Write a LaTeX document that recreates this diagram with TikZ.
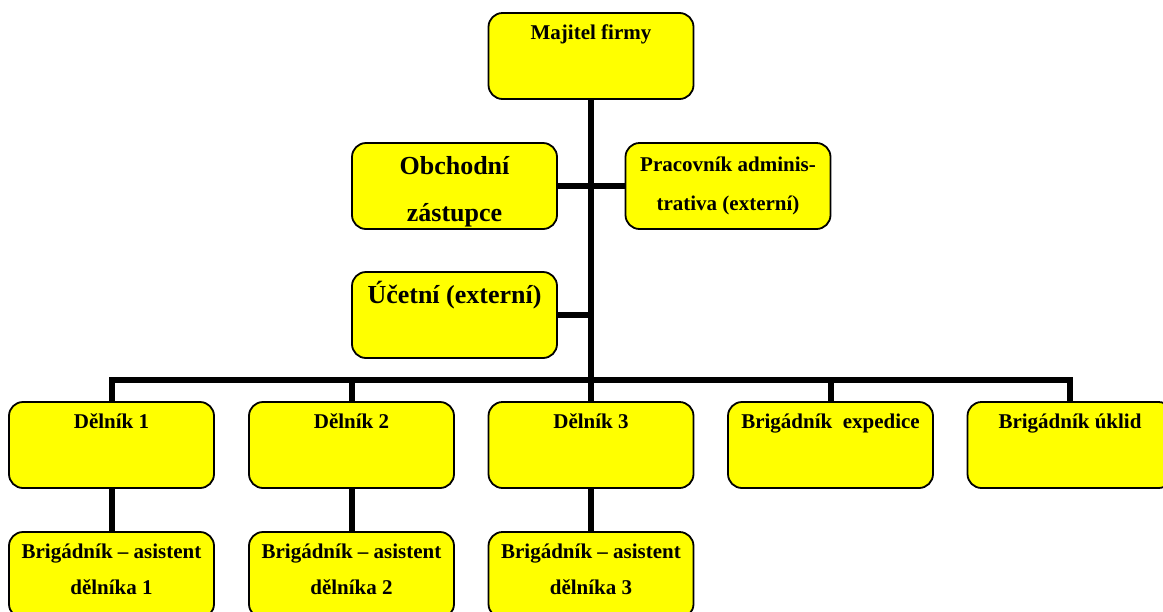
\documentclass[tikz,border=0pt]{standalone}
\usepackage{fontspec}
\setmainfont{Liberation Serif}
\usepackage{xcolor}
\definecolor{cBOX}{HTML}{FFFF00}

\begin{document}
\begin{tikzpicture}[x=1pt, y=-1pt,
  box/.style={draw, line width=1.8pt, fill=cBOX, rounded corners=14pt,
    minimum width=205pt, minimum height=86pt, inner sep=0pt, align=center,
    font=\fontsize{21}{39}\selectfont\bfseries},
  toptext/.style={text height=26pt, text depth=60pt},
  big/.style={font=\fontsize{26}{47}\selectfont\bfseries},
  conn/.style={line width=6pt},
]
\clip (0,0) rectangle (1163,611);

% vedeni
\node[box, toptext] (maj) at (591,56) {Majitel firmy};
\node[box, big] (obchod) at (454.5,186) {\rule{0pt}{30pt}Obchodní\\zástupce};
\node[box] (admin) at (728,186) {Pracovník adminis-\\trativa (externí)};
\node[box, big, text height=31pt, text depth=55pt] (ucetni) at (454.5,315) {Účetní (externí)};

% pracovnici
\node[box, toptext] (d1) at (111.5,445) {Dělník 1};
\node[box, toptext] (d2) at (351.5,445) {Dělník 2};
\node[box, toptext] (d3) at (591,445) {Dělník 3};
\node[box, toptext] (expedice) at (830.5,445) {Brigádník~ expedice};
\node[box, toptext] (uklid) at (1070,445) {Brigádník úklid};

\foreach \i/\x in {1/111.5, 2/351.5, 3/591}
  \node[box, font=\fontsize{21}{36}\selectfont\bfseries] (a\i) at (\x,575)
    {Brigádník – asistent\\dělníka \i\rule[-12pt]{0pt}{12pt}};

% spojnice
\coordinate (bus) at (0,380);
\draw[conn] (maj) -- (d3);
\draw[conn] (obchod) -- (admin);
\draw[conn] (ucetni.east) -- (ucetni.east -| maj.south);
\draw[conn] (d1.north) |- (uklid.north |- bus) -- (uklid.north);
\foreach \n in {d2, expedice}
  \draw[conn] (\n.north) -- (\n.north |- bus);
\foreach \i in {1,2,3}
  \draw[conn] (d\i) -- (a\i);
\end{tikzpicture}
\end{document}
